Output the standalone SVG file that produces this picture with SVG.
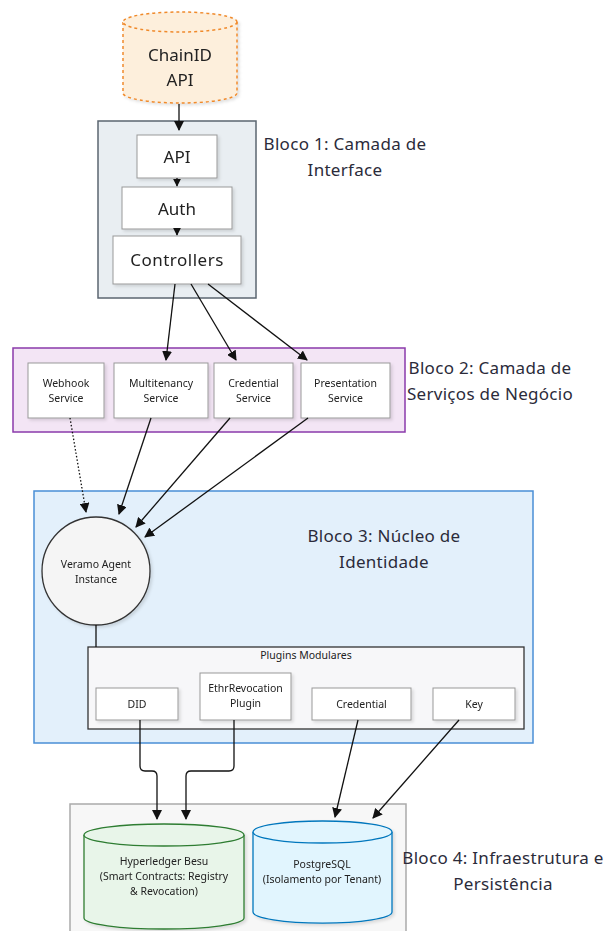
<svg xmlns="http://www.w3.org/2000/svg" width="610" height="931" viewBox="0 0 610 931">
<defs>
<style>
text{font-family:"Noto Sans","Open Sans",sans-serif;fill:#222;text-anchor:middle}
.lbl{font-size:17px;letter-spacing:0.3px;fill:#2b2b3a}
.sm{font-size:10.5px}
.md{font-size:17px}
.box{fill:#fff;stroke:#999;stroke-width:1}
.ln{fill:none;stroke:#111;stroke-width:1.3}
</style>
<marker id="ah" viewBox="0 0 10 10" refX="9" refY="5" markerWidth="8" markerHeight="8" orient="auto-start-reverse" markerUnits="userSpaceOnUse"><path d="M0,0 L10,5 L0,10 z" fill="#111"/></marker>
<marker id="ahb" viewBox="0 0 10 10" refX="9" refY="5" markerWidth="10" markerHeight="10" orient="auto" markerUnits="userSpaceOnUse"><path d="M0,0 L10,5 L0,10 z" fill="#111"/></marker>
<filter id="sh" x="-10%" y="-10%" width="130%" height="130%"><feDropShadow dx="2" dy="2" stdDeviation="1.5" flood-color="#000" flood-opacity="0.12"/></filter>
</defs>

<g id="bloco1">
<rect x="98" y="121" width="158" height="177" fill="#e9eef2" stroke="#5b6670" stroke-width="1.5"/>
<text class="lbl" x="345" y="150">Bloco 1: Camada de</text>
<text class="lbl" x="345" y="176">Interface</text>
</g>
<g id="bloco2">
<rect x="13" y="348" width="392" height="84" fill="#f3e5f5" stroke="#8a3aab" stroke-width="1.5"/>
<text class="lbl" x="490" y="374">Bloco 2: Camada de</text>
<text class="lbl" x="490" y="400">Serviços de Negócio</text>
</g>
<g id="bloco3">
<rect x="34" y="491" width="499" height="252" fill="#e3f0fb" stroke="#4a8fd6" stroke-width="1.5"/>
<text class="lbl" x="384" y="542">Bloco 3: Núcleo de</text>
<text class="lbl" x="384" y="568">Identidade</text>
</g>
<g id="bloco4">
<rect x="70" y="804" width="336" height="140" fill="#f7f7f7" stroke="#aaa" stroke-width="1.5"/>
<text class="lbl" x="503" y="864">Bloco 4: Infraestrutura e</text>
<text class="lbl" x="503" y="890">Persistência</text>
</g>

<g id="chainid" filter="url(#sh)">
<path d="M123,22 L123,93 A57,10 0 0 0 237,93 L237,22" fill="#fdefdc" stroke="#f08a2c" stroke-width="1.5" stroke-dasharray="3,3"/>
<ellipse cx="180" cy="22" rx="57" ry="10" fill="#fdefdc" stroke="#f08a2c" stroke-width="1.5" stroke-dasharray="3,3"/>
<text class="md" x="180" y="61">ChainID</text>
<text class="md" x="180" y="86">API</text>
</g>

<g id="api" filter="url(#sh)"><rect class="box" x="137" y="135" width="80" height="43"/><text class="md" x="177" y="163">API</text></g>
<g id="auth" filter="url(#sh)"><rect class="box" x="122" y="187" width="110" height="42"/><text class="md" x="177" y="215">Auth</text></g>
<g id="controllers" filter="url(#sh)"><rect class="box" x="113" y="236" width="128" height="48"/><text class="md" x="177" y="266" style="letter-spacing:0.5px">Controllers</text></g>

<g id="webhook" filter="url(#sh)"><rect class="box" x="28" y="363" width="76" height="55"/><text class="sm" x="66" y="387">Webhook</text><text class="sm" x="66" y="402">Service</text></g>
<g id="multitenancy" filter="url(#sh)"><rect class="box" x="114" y="363" width="94" height="55"/><text class="sm" x="161" y="387">Multitenancy</text><text class="sm" x="161" y="402">Service</text></g>
<g id="credentialsvc" filter="url(#sh)"><rect class="box" x="214" y="363" width="79" height="55"/><text class="sm" x="253.5" y="387">Credential</text><text class="sm" x="253.5" y="402">Service</text></g>
<g id="presentation" filter="url(#sh)"><rect class="box" x="301" y="363" width="89" height="55"/><text class="sm" x="345.5" y="387">Presentation</text><text class="sm" x="345.5" y="402">Service</text></g>

<g id="veramo" filter="url(#sh)"><circle cx="96" cy="571" r="54" fill="#f5f5f5" stroke="#333" stroke-width="1.3"/><text class="sm" x="96" y="568">Veramo Agent</text><text class="sm" x="96" y="583">Instance</text></g>

<g id="plugins">
<rect x="88" y="647" width="436" height="82" fill="#f7f7f9" stroke="#333" stroke-width="1.3"/>
<text class="sm" x="306" y="659">Plugins Modulares</text>
</g>
<g id="did" filter="url(#sh)"><rect class="box" x="96" y="688" width="82" height="32"/><text class="sm" x="137" y="708">DID</text></g>
<g id="ethr" filter="url(#sh)"><rect class="box" x="200" y="673" width="91" height="47"/><text class="sm" x="245.5" y="692">EthrRevocation</text><text class="sm" x="245.5" y="707">Plugin</text></g>
<g id="credential" filter="url(#sh)"><rect class="box" x="312" y="688" width="99" height="32"/><text class="sm" x="361.5" y="708">Credential</text></g>
<g id="key" filter="url(#sh)"><rect class="box" x="433" y="688" width="82" height="32"/><text class="sm" x="474" y="708">Key</text></g>

<g id="besu" filter="url(#sh)">
<path d="M84,835 L84,918 A80,11 0 0 0 244,918 L244,835" fill="#e8f5e9" stroke="#2e7d32" stroke-width="1.3"/>
<ellipse cx="164" cy="835" rx="80" ry="11" fill="#e8f5e9" stroke="#2e7d32" stroke-width="1.3"/>
<text class="sm" x="164" y="865">Hyperledger Besu</text>
<text class="sm" x="164" y="880">(Smart Contracts: Registry</text>
<text class="sm" x="164" y="895">&amp; Revocation)</text>
</g>
<g id="postgres" filter="url(#sh)">
<path d="M253,832 L253,912 A69,11 0 0 0 392,912 L392,832" fill="#e1f5fe" stroke="#0277bd" stroke-width="1.3"/>
<ellipse cx="322.5" cy="832" rx="69.5" ry="11" fill="#e1f5fe" stroke="#0277bd" stroke-width="1.3"/>
<text class="sm" x="322" y="868">PostgreSQL</text>
<text class="sm" x="322" y="883">(Isolamento por Tenant)</text>
</g>

<g id="connectors">
<path class="ln" d="M179,104 L179,130" stroke-width="2" marker-end="url(#ahb)"/>
<path class="ln" d="M177,178 L177,186" marker-end="url(#ah)"/>
<path class="ln" d="M177,229 L177,235" marker-end="url(#ah)"/>
<path class="ln" d="M175,284 L166,360" marker-end="url(#ahb)"/>
<path class="ln" d="M191,284 L236,360" marker-end="url(#ahb)"/>
<path class="ln" d="M208,284 L307,360" marker-end="url(#ahb)"/>
<path class="ln" d="M70,418 L86,512" stroke-dasharray="1.5,2" marker-end="url(#ahb)"/>
<path class="ln" d="M151,418 L119,514" marker-end="url(#ahb)"/>
<path class="ln" d="M230,418 L136,527" marker-end="url(#ahb)"/>
<path class="ln" d="M308,418 L145,537" marker-end="url(#ahb)"/>
<path class="ln" d="M96,625 L96,647"/>
<path class="ln" d="M140,720 L140,766 Q140,771 145,771 L152,771 Q157,771 157,776 L157,819" marker-end="url(#ahb)"/>
<path class="ln" d="M234,720 L234,766 Q234,771 229,771 L191,771 Q186,771 186,776 L186,819" marker-end="url(#ahb)"/>
<path class="ln" d="M358,720 L335,817" marker-end="url(#ahb)"/>
<path class="ln" d="M459,720 L373,818" marker-end="url(#ahb)"/>
</g>
</svg>
